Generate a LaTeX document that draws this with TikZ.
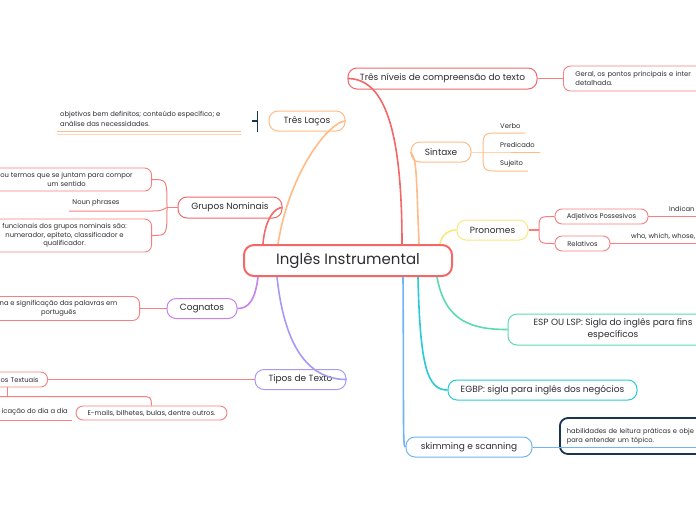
\documentclass[tikz,border=0pt]{standalone}
\usepackage{fontspec}
\setmainfont{Poppins}
\usetikzlibrary{positioning}
\definecolor{cText}{RGB}{45,45,50}
\definecolor{cRed}{RGB}{242,104,104}
\definecolor{cRed2}{RGB}{246,128,128}
\definecolor{cOrange}{RGB}{255,188,135}
\definecolor{cYellow}{RGB}{250,232,125}
\definecolor{cGreen}{RGB}{92,220,172}
\definecolor{cCyan}{RGB}{40,202,216}
\definecolor{cBlue}{RGB}{112,180,245}
\definecolor{cPurple}{RGB}{200,130,235}
\definecolor{cLav}{RGB}{165,155,246}
\definecolor{cNavy}{RGB}{24,54,80}

\begin{document}
\begin{tikzpicture}[x=1pt,y=-1pt,
	root/.style={
		draw=cRed,
		line width=2pt,
		rounded corners=10pt,
		fill=white,
		minimum width=208pt,
		minimum height=31pt,
		font=\fontsize{15}{17}\selectfont,
		text=cText
	},
	n/.style={
		line width=1pt,
		rounded corners=9pt,
		fill=white,
		minimum height=20pt,
		inner sep=0pt,
		font=\fontsize{9}{12}\selectfont,
		text=cText
	},
	sub/.style={
		line width=0.9pt,
		rounded corners=7pt,
		fill=white,
		minimum height=15pt,
		inner sep=0pt,
		font=\fontsize{6.8}{8.5}\selectfont,
		text=cText
	},
	lbl/.style={inner sep=0pt,font=\fontsize{6.8}{10}\selectfont,text=cText},
	br/.style={line width=1.6pt},
	lk/.style={line width=1pt}
	]
	\useasboundingbox (0,0) rectangle (696,520);
	\fill[white] (0,0) rectangle (696,520);
	\clip (0,0) rectangle (696,520);

	\node[root](root) at (348,260.5) {Inglês Instrumental};

	\node[n,draw=cRed,minimum width=189pt,minimum height=21pt](niveis) at (442.5,78.5) {Três níveis de compreensão do texto};
	\node[sub,draw=cRed2,anchor=west,minimum height=25pt,text width=160pt,inner xsep=12pt,align=left](geral) at (563,78.5) { Geral, os pontos principais e inter\\detalhada.};
	\node[n,draw=cOrange,minimum width=60pt](sintaxe) at (441,152) {Sintaxe};
	\node[lbl,anchor=west](verbo) at (500,126) {Verbo};
	\node[lbl,anchor=west](predicado) at (500,145) {Predicado};
	\node[lbl,anchor=west](sujeito) at (500,164) {Sujeito};
	\node[n,draw=cYellow,minimum width=71pt](pronomes) at (492.5,230) {Pronomes};
	\node[sub,draw=cRed2,minimum width=93pt](adjpos) at (601.5,216.5) {Adjetivos Possesivos};
	\node[sub,draw=cRed2,minimum width=55pt](relativos) at (582.5,243.5) {Relativos};
	\node[lbl,anchor=west](indican) at (669,209) {Indican};
	\node[lbl,anchor=west](who) at (631,236) {who, which, whose,};
	\node[n,draw=cGreen,minimum width=210pt,minimum height=31pt,align=center](esp) at (613,329.5) {ESP OU LSP: Sigla do inglês para fins\\específicos};
	\node[n,draw=cCyan,minimum width=189pt](egbp) at (542.5,390) {EGBP: sigla para inglês dos negócios};
	\node[n,draw=cBlue,minimum width=126pt](skim) at (469,447) {skimming e scanning};
	\node[sub,draw=cNavy,line width=1.8pt,fill=none,rounded corners=8pt,anchor=west,minimum height=36pt,text width=170pt,inner xsep=7pt,align=left,font=\fontsize{6.7}{9}\selectfont](habil) at (559,436) {habilidades de leitura práticas e obje\\para entender um tópico.};

	\node[n,draw=cOrange,minimum width=76pt](lacos) at (307,121) {Três Laços};
	\node[lbl,anchor=west,align=left](objetivos) at (60,119) {objetivos bem definitos; conteúdo específico; e\\análise das necessidades.};
	\node[n,draw=cRed,minimum width=104pt,minimum height=21pt](grupos) at (230,207.5) {Grupos Nominais};
	\node[sub,draw=cRed2,anchor=east,minimum width=170pt,minimum height=23pt,align=center](palavras) at (152,179.5) {ou termos que se juntam para compor\\um sentido};
	\node[lbl](noun) at (96,203) {Noun phrases};
	\node[sub,draw=cRed2,anchor=east,minimum width=174pt,minimum height=33pt,align=center](funcoes) at (152,235.5) {funcionais dos grupos nominais são:\\numerador, epíteto, classificador e\\qualificador.};
	\node[n,draw=cPurple,minimum width=70pt](cognatos) at (202,308.5) {Cognatos};
	\node[sub,draw=cRed2,anchor=east,minimum width=162pt,minimum height=24pt,align=center](forma) at (140,308.5) {na e significação das palavras em\\português};
	\node[n,draw=cLav,minimum width=91pt](tipos) at (300.5,379.5) {Tipos de Texto};
	\node[sub,draw=cRed2,anchor=east,text width=70pt,inner xsep=9pt,align=right](generos) at (48,379.5) {os Textuais};
	\node[sub,draw=cRed2,minimum width=151pt,minimum height=14pt](emails) at (151.5,413) {E-mails, bilhetes, bulas, dentre outros.};
	\node[lbl,anchor=east](dia) at (68,412) {icação do dia a dia};

	\coordinate (sfork) at (483,152);
	\coordinate (pfork) at (539,230);
	\coordinate (gfork) at (167,207.5);
	\coordinate (gbar) at (7,396.5);
	\coordinate (adjend) at (700,216.5);
	\coordinate (relend) at (700,243.5);
	\coordinate (habend) at (700,447);

	\draw[br,cRed] ([xshift=54pt]root.north) .. controls +(0,-115) and +(37,0) .. (niveis.west);
	\draw[lk,cRed2] (niveis.east) -- (geral.west);
	\draw[br,cOrange] ([xshift=71pt]root.north) .. controls +(-3,-80) and +(6,8) .. (sintaxe.west);
	\draw[lk,cOrange] (sintaxe.east) -- (sfork) -- (540,152);
	\draw[lk,cOrange] (sfork) .. controls (483,133) .. (498,133) -- (525,133);
	\draw[lk,cOrange] (sfork) .. controls (483,171) .. (498,171) -- (528,171);
	\draw[br,cYellow] ([xshift=92pt]root.north) .. controls +(2,-10) and +(-8,0) .. (pronomes.west);
	\draw[br,cRed2] (pronomes.east) -- (pfork);
	\draw[lk,cRed2] (pfork) .. controls (539,216.5) .. (adjpos.west);
	\draw[lk,cRed2] (pfork) .. controls (539,243.5) .. (relativos.west);
	\draw[lk,cRed2] (adjpos.east) -- (adjend);
	\draw[lk,cRed2] (relativos.east) -- (relend);
	\draw[br,cGreen] ([xshift=89pt]root.south) .. controls +(8,45) and +(-35,0) .. (esp.west);
	\draw[br,cCyan] ([xshift=70pt]root.south) .. controls +(2,90) and +(-20,0) .. (egbp.west);
	\draw[br,cBlue] ([xshift=55pt]root.south) .. controls +(1,150) and +(-3,0) .. (skim.west);
	\draw[lk,cBlue] (skim.east) -- (habend);

	\draw[br,cOrange] ([xshift=-70pt]root.north) .. controls +(12,-75) and +(-15,0) .. (lacos.east);
	\draw[cNavy,line width=1.2pt] ([xshift=-17pt]lacos.west) -- ([xshift=-11pt]lacos.west) +(0,-10.5) -- +(0,10.5);
	\draw[cOrange,lk] (57,131) -- (241,131);
	\draw[cOrange!60,lk] (57,134.5) -- (241,134.5);
	\draw[br,cRed] ([xshift=-85pt]root.north) .. controls +(2,-25) and +(-8,0) .. (grupos.east);
	\draw[lk,cRed2] (grupos.west) -- (gfork);
	\draw[lk,cRed2] (gfork) .. controls (167,179.5) .. (palavras.east);
	\draw[lk,cRed2] (gfork) .. controls (167,235.5) .. (funcoes.east);
	\draw[lk,cRed2] (gfork) .. controls (160,211) .. (150,211) -- (69,211);
	\draw[br,cPurple] ([xshift=-90pt]root.south) .. controls +(-3,25) and +(10,0) .. (cognatos.east);
	\draw[lk,cRed2] (cognatos.west) -- (forma.east);
	\draw[br,cLav] ([xshift=-71pt]root.south) .. controls +(8,75) and +(-35,0) .. (tipos.east);
	\draw[lk,cRed2] (tipos.west) -- (generos.east);
	\draw[lk,cRed2] (generos.south -| gbar) -- (gbar);
	\draw[lk,cRed2] (-10,396.5) -- (140,396.5) .. controls (151,396.5) .. (emails.north);
	\draw[lk,cRed2] (-10,420) -- (72,420);
\end{tikzpicture}
\end{document}
